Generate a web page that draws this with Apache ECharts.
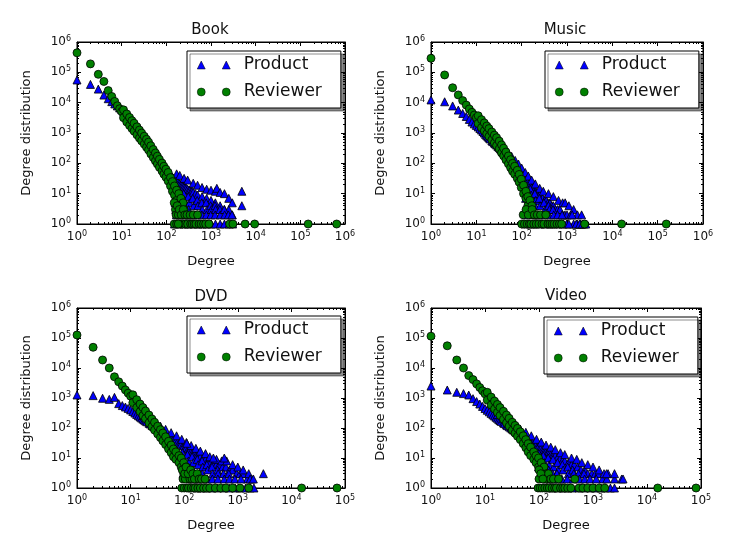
<!doctype html>
<html>
<head>
<meta charset="UTF-8">
<title>Degree distribution</title>
<script src="https://cdn.jsdelivr.net/npm/echarts@6.0.0/dist/echarts.min.js"></script>
<style>
    html, body { margin: 0; padding: 0; background: #fff; }
    #main { width: 736px; height: 550px; }
</style>
</head>
<body>
<div id="main"></div>
<script>
// [degree, count] (head, band, tail cloud)
var bookProduct = [[1,56000],[2,40000],[3,28000],[4,17800],[5,13500],[6,10800],[7,9100],[8,7800],[9,6700],[10,5900],
    [11,5200],[12,4400],[13,3600],[14,3100],[15,2700],[16,2400],[17,2100],[18,1850],[19,1650],[20,1500],[22,1250],[23,1150],[25,980],[26,900],[28,780],[30,700],[32,610],[34,550],[36,490],[38,440],[40,400],[43,340],[45,310],[48,275],[51,240],[54,210],[57,190],[60,170],[63,150],[67,130],[70,120],[75,105],[80,92],[84,84],[88,76],[94,68],[98,62],[105,56],[110,50],[118,45],[124,42],[130,38],[137,35],[145,32],[152,30],[160,28],[170,26],[180,24],[190,22],[200,21],[212,20],[225,19],[237,18],[250,17],[265,16],[280,15],[300,14],[320,13],[340,13],[360,12],[380,12],[400,11],[450,10],[500,9],[630,8],[800,7],[1000,6],[1250,5],[1600,4],[2000,3],[2500,3],[3000,2],
    [170,45],[200,40],[250,32],[300,28],[400,22],[500,19],[630,16],[800,14],[1000,13],[1250,12],[1350,15],[1600,11],[2000,10],[2500,7],[3000,5],[4900,12],[4900,4],
    [155,16],[165,9],[158,5],[162,3],[168,2],[152,1],[195,12],[205,7],[198,4],[208,2],[192,1],[245,10],[255,6],[242,3],[258,2],[250,1],[310,8],[330,5],[315,3],[325,2],[305,1],[390,7],[410,4],[395,2],[415,1],[490,6],[510,4],[495,2],[515,1],[620,5],[640,3],[625,2],[645,1],[780,5],[820,3],[790,2],[810,1],[980,4],[1020,3],[990,2],[1010,1],[1230,4],[1270,3],[1240,2],[1260,1],[1580,3],[1620,2],[1600,1],[1980,3],[2020,2],[2000,1],[2450,2],[2550,1],[2950,2],[3050,1]];
var bookReviewer = [[1,440000],[2,190000],[3,86000],[4,50000],[5,25000],[6,16000],[7,11000],[8,7900],[9,6300],[10,5100],
    [12,3600],[14,2750],[16,2100],[18,1700],[20,1400],[23,1080],[26,850],[30,650],[34,510],[38,410],[43,310],[48,240],[54,185],[60,145],[67,112],[75,87],[84,68],[94,52],[105,41],[118,30],[130,21],[145,15],[160,11],[180,8],[200,6],[225,4],[250,3],[280,2],[320,1],
    [11,5800],[11,3200],[13,4250],[13,2300],[15,3250],[15,1780],[17,2550],[17,1400],[19,2100],[19,1150],[22,1600],[22,870],[25,1250],[25,680],[28,1000],[28,550],[32,780],[32,430],[36,620],[36,340],[40,500],[40,275],[45,380],[45,205],[51,285],[51,155],[57,220],[57,120],[63,172],[63,95],[70,135],[70,74],[80,102],[80,56],[88,80],[88,44],[98,64],[98,35],[110,50],[110,26],[124,34],[124,18],[137,25],[137,12],[152,18],[152,9],[170,13],[170,6],[190,10],[190,5],[212,7],[212,3],[237,5],[237,2],
    [150,5],[160,3],[165,2],[175,4],[185,2],[195,3],[205,1],[215,2],[230,1],[240,3],[260,2],[270,1],[290,2],[300,1],[340,2],[350,1],[380,1],[400,2],[420,1],[460,1],[500,2],[540,1],[600,1],[680,1],[760,1],[900,1],[150,1],[170,1],[185,1],
    [2600,1],[3100,1],[5800,1],[9500,1],[150000,1],[650000,1]];

var musicProduct = [[1,12300],[2,10700],[3,7800],[4,5700],[5,4400],[6,3500],[7,2800],[8,2300],[9,2000],[10,1780],
    [11,1580],[12,1400],[13,1250],[14,1120],[15,1000],[16,900],[17,820],[18,750],[19,690],[20,640],[22,560],[23,520],[25,470],[26,440],[28,400],[30,360],[32,330],[34,300],[36,275],[38,255],[40,235],[43,210],[45,195],[48,175],[51,158],[54,142],[57,128],[60,116],[63,105],[67,94],[70,86],[75,76],[80,67],[84,61],[88,56],[94,50],[98,46],[105,41],[110,37],[118,33],[124,30],[130,27],[137,25],[145,22],[152,20],[160,18],[170,16],[180,15],[190,13],[200,12],[212,11],[225,10],[240,9],[250,9],[270,8],[290,7],[320,6],[350,6],[380,5],[420,5],[460,4],[500,4],[560,3],[620,3],[700,3],[800,2],[900,2],[1000,2],[1200,2],[1400,1],[1700,1],[2000,1],[2400,1],
    [30,520],[40,330],[50,230],[60,170],[72,125],[85,95],[100,70],[120,50],[140,38],[166,28],[200,21],[250,15],[300,12],[390,10],[500,8],[650,6],[800,5],[910,5],[1100,4],[1400,3],[1700,2],[2100,2],
    [125,18],[128,11],[122,7],[131,4],[126,2],[120,1],[155,14],[162,9],[152,5],[165,3],[158,1],[195,10],[205,6],[198,4],[208,2],[192,1],[245,7],[255,4],[242,2],[258,1],[310,5],[330,3],[315,2],[325,1],[390,4],[410,3],[395,2],[415,1],[490,3],[510,2],[500,1],[620,2],[640,1],[780,2],[820,1],[980,1],[1100,1],[1300,2],[1600,1],[1900,1],[2200,1],[2600,1]];
var musicReviewer = [[1,290000],[2,82000],[3,31000],[4,18000],[5,11700],[6,8300],[7,6200],[8,4800],[9,3900],[10,3200],
    [12,2350],[14,1800],[16,1400],[18,1150],[20,950],[23,740],[26,590],[30,460],[34,345],[38,265],[43,195],[48,150],[54,112],[60,87],[67,66],[75,50],[84,38],[94,26],[105,17],[118,11],[130,8],[145,5],[160,3],[175,2],[200,1],
    [11,3700],[11,2050],[13,2750],[13,1500],[15,2150],[15,1180],[17,1700],[17,940],[19,1400],[19,770],[22,1080],[22,590],[25,850],[25,470],[28,700],[28,385],[32,540],[32,300],[36,405],[36,220],[40,315],[40,175],[45,235],[45,130],[51,175],[51,96],[57,132],[57,72],[63,100],[63,55],[70,80],[70,44],[80,59],[80,32],[88,43],[88,24],[98,30],[98,16],[110,19],[110,10],[124,12],[124,7],[137,8],[137,4],[152,6],[152,3],[168,4],[168,2],
    [100,1],[108,2],[115,1],[125,3],[132,1],[140,2],[148,1],[160,1],[170,3],[185,1],[190,2],[210,1],[220,2],[240,1],[260,2],[280,1],[310,1],[340,2],[380,1],[420,1],[470,1],[520,1],[600,1],[680,1],[760,1],
    [2450,1],[16000,1],[155000,1]];

var dvdProduct = [[1,1260],[2,1200],[3,980],[4,900],[5,1050],[6,650],[7,560],[8,500],[9,450],[10,400],
    [11,355],[12,315],[13,283],[14,257],[15,234],[16,215],[17,198],[18,185],[19,173],[20,162],[22,145],[23,137],[25,124],[26,118],[28,109],[30,100],[32,93],[34,86],[36,81],[38,76],[40,71],[43,66],[45,62],[48,57],[51,53],[54,50],[57,47],[60,44],[63,42],[67,39],[70,37],[75,34],[80,32],[84,30],[88,29],[94,26],[98,25],[105,23],[110,22],[118,20],[124,19],[130,19],[137,17],[145,16],[152,15],[160,14],[170,13],[180,13],[190,12],[200,11],[225,10],[250,9],[280,8],[300,7],[350,7],[400,6],[450,6],[520,5],[600,5],[700,4],[800,4],[950,3],[1100,3],[1250,3],[1500,2],[1800,2],
    [17,260],[22,200],[28,150],[36,115],[45,90],[57,70],[72,55],[90,42],[110,33],[135,26],[165,21],[200,17],[250,14],[300,11],[400,9],[500,8],[620,8],[800,6],[1000,5],[1260,4],[1600,3],
    [92,15],[96,9],[100,5],[95,3],[115,13],[120,8],[112,5],[118,3],[140,11],[148,7],[143,4],[150,2],[175,9],[182,6],[178,3],[185,2],[172,1],[215,8],[222,5],[218,3],[228,2],[210,1],[265,6],[275,4],[270,2],[260,1],[330,5],[340,3],[335,2],[325,1],[420,4],[430,3],[425,2],[415,1],[540,3],[560,2],[550,1],[680,3],[700,2],[690,1],[880,2],[900,1],[1150,2],[1100,1],[1400,1],[1700,1],[2000,1],
    [112,31],[350,10],[560,10],[1700,2],[1950,2],[3000,3]];
var dvdReviewer = [[1,126000],[2,49000],[3,18500],[4,10000],[5,5100],[6,3470],[7,2500],[8,1860],[9,1450],[10,1150],
    [12,775],[14,550],[16,405],[18,310],[20,245],[23,178],[26,135],[30,98],[34,74],[38,57],[43,43],[48,32],[54,23],[60,18],[67,13],[75,10],[84,8],[94,6],[105,4],[118,2],[130,1],
    [11,1280],[11,700],[13,880],[13,480],[15,630],[15,350],[17,480],[17,260],[19,370],[19,205],[22,270],[22,148],[25,200],[25,110],[28,155],[28,85],[32,115],[32,63],[36,88],[36,48],[40,68],[40,37],[45,51],[45,28],[51,36],[51,20],[57,27],[57,15],[63,20],[63,11],[70,16],[70,9],[80,12],[80,7],[88,10],[88,5],[98,7],[98,3],[110,5],[110,2],[124,3],[124,1],
    [90,1],[95,2],[100,1],[105,2],[112,1],[115,3],[120,1],[128,2],[135,1],[140,2],[150,1],[160,1],[170,2],[180,1],[200,1],[230,1],[260,1],[300,1],[380,1],[480,1],[600,1],[800,1],[1100,1],[1600,1],
    [92,4],[102,3],[108,5],[118,3],[132,4],[145,3],[155,2],[175,3],[190,2],[210,2],[245,2],
    [15500,1],[71000,1]];

var videoProduct = [[1,2500],[2,1850],[3,1550],[4,1400],[5,1260],[6,950],[7,760],[8,630],[9,525],[10,445],
    [11,390],[12,345],[13,307],[14,275],[15,250],[16,228],[17,210],[18,191],[19,178],[20,166],[22,148],[23,140],[25,126],[26,120],[28,110],[30,100],[32,92],[34,85],[36,79],[38,74],[40,69],[43,63],[45,60],[48,55],[51,51],[54,47],[57,44],[60,41],[63,39],[67,36],[70,34],[75,32],[80,30],[84,28],[88,27],[94,25],[98,24],[105,22],[110,21],[118,20],[124,19],[130,18],[137,17],[145,16],[152,16],[160,15],[170,14],[180,13],[190,13],[200,12],[225,11],[250,10],[280,9],[300,8],[350,7],[400,6],[450,6],[520,5],[600,4],[700,4],[800,3],[950,3],[1100,3],[1250,3],[1500,2],[1800,2],
    [17,280],[22,200],[28,150],[36,120],[45,92],[57,72],[72,55],[90,42],[110,34],[135,27],[165,23],[200,19],[250,15],[300,13],[400,10],[500,9],[620,7],[800,6],[1000,5],[1300,4],[1600,3],[1900,3],[2500,2],[3400,2],
    [100,14],[104,8],[98,5],[120,12],[126,7],[116,4],[123,3],[148,10],[155,6],[150,4],[158,2],[182,9],[188,5],[178,3],[186,2],[175,1],[220,7],[228,4],[215,3],[232,2],[222,1],[270,6],[280,4],[265,2],[275,1],[340,5],[350,3],[335,2],[345,1],[420,4],[440,3],[430,2],[410,1],[540,3],[560,2],[550,1],[680,3],[700,2],[690,1],[880,2],[900,1],[1150,2],[1100,1],[1400,1],[1700,1],[2100,1],[2500,1],
    [1780,3],[2500,3],[3600,2]];
var videoReviewer = [[1,115000],[2,55000],[3,18500],[4,10000],[5,5600],[6,4100],[7,2950],[8,2240],[9,1740],[10,1380],
    [12,935],[14,675],[16,510],[18,400],[20,318],[23,235],[26,182],[30,133],[34,102],[38,80],[43,62],[48,47],[54,35],[60,26],[67,19],[75,14],[84,10],[94,8],[105,6],[118,4],[130,3],[145,2],[160,1],
    [11,1550],[11,850],[13,1070],[13,585],[15,790],[15,430],[17,610],[17,330],[19,480],[19,260],[22,360],[22,195],[25,270],[25,148],[28,210],[28,115],[32,155],[32,85],[36,122],[36,67],[40,97],[40,53],[45,75],[45,41],[51,55],[51,30],[57,41],[57,22],[63,30],[63,16],[70,23],[70,12],[80,16],[80,9],[88,12],[88,7],[98,10],[98,5],[110,7],[110,4],[124,5],[124,2],[137,3],[137,1],
    [96,1],[100,2],[105,1],[112,3],[115,1],[122,2],[128,1],[135,2],[142,1],[150,3],[155,1],[165,2],[175,1],[185,2],[195,1],[210,1],[230,2],[250,1],[275,1],[300,1],[340,1],[390,1],[460,2],[550,1],[650,1],[800,1],[1000,1],[1300,1],[1650,1],
    [100,4],[108,3],[118,2],
    [15800,1],[81000,1]];

var titles = ['Book', 'Music', 'DVD', 'Video'];
var xMaxExp = [6, 6, 5, 5];   // x axis runs 10^0 .. 10^n
var yMaxExp = 6;
var seriesNames = ['Product', 'Reviewer'];

var panelData = [
    [bookProduct, bookReviewer],
    [musicProduct, musicReviewer],
    [dvdProduct, dvdReviewer],
    [videoProduct, videoReviewer]
];

var font = 'DejaVu Sans';
var layout = [
    {left: 77, top: 42, width: 268, height: 182},
    {left: 431, top: 42, width: 272, height: 182},
    {left: 77, top: 308, width: 268, height: 180},
    {left: 431, top: 308, width: 270, height: 180}
];
var titlePos = [[210, 30], [565, 30], [211, 297], [566, 296]];
var legendPos = [[187, 51], [545, 51], [187, 316], [544, 317]];

var blue = '#0000ff', green = '#008000';
var triIcon = 'path://M0,8L4,0L8,8Z M25,8L29,0L33,8Z';
var dotIcon = 'path://M0,4a4,4 0 1,0 8,0a4,4 0 1,0 -8,0Z M25,4a4,4 0 1,0 8,0a4,4 0 1,0 -8,0Z';

function powLabel(v) {
    return '{b|10}{s|' + Math.round(Math.log(v) / Math.LN10) + '}';
}
var labelRich = {
    b: {fontSize: 12, fontFamily: font, color: '#111', lineHeight: 14},
    s: {fontSize: 8, fontFamily: font, color: '#111', verticalAlign: 'top', lineHeight: 8}
};

function logAxis(i, pos, maxExp, withLabels, name, gap) {
    return {
        type: 'log', logBase: 10, gridIndex: i, position: pos,
        min: 1, max: Math.pow(10, maxExp), splitNumber: maxExp,
        name: name || '', nameLocation: 'middle', nameGap: gap || 0,
        nameTextStyle: {fontSize: 13, fontFamily: font, color: '#111'},
        axisLine: {show: true, onZero: false, lineStyle: {color: '#000', width: 1}},
        axisTick: {show: true, inside: true, length: 4, lineStyle: {color: '#000', width: 1}},
        minorTick: {show: true, splitNumber: 9, length: 2, lineStyle: {color: '#000', width: 1}},
        axisLabel: {show: withLabels, margin: 6, formatter: powLabel, rich: labelRich},
        splitLine: {show: false}
    };
}

var grid = [], xAxis = [], yAxis = [], series = [], legend = [], graphic = [];
for (var i = 0; i < 4; i++) {
    grid.push({left: layout[i].left, top: layout[i].top, width: layout[i].width, height: layout[i].height,
        show: true, borderColor: '#000', borderWidth: 1, backgroundColor: '#fff'});
    xAxis.push(logAxis(i, 'bottom', xMaxExp[i], true, 'Degree', 31));
    yAxis.push(logAxis(i, 'left', yMaxExp, true, 'Degree distribution', 44));
}
for (var i = 0; i < 4; i++) {
    xAxis.push(logAxis(i, 'top', xMaxExp[i], false));
    yAxis.push(logAxis(i, 'right', yMaxExp, false));
}

for (var i = 0; i < 4; i++) {
    series.push({
        type: 'scatter', name: seriesNames[0], xAxisIndex: i, yAxisIndex: i,
        data: panelData[i][0], symbol: 'triangle', symbolSize: 8, clip: false, z: 2, silent: true,
        itemStyle: {color: blue, borderColor: '#000', borderWidth: 0.8, opacity: 1}
    });
    series.push({
        type: 'scatter', name: seriesNames[1], xAxisIndex: i, yAxisIndex: i,
        data: panelData[i][1], symbol: 'circle', symbolSize: 8, clip: false, z: 3, silent: true,
        itemStyle: {color: green, borderColor: '#000', borderWidth: 0.8, opacity: 1}
    });

    legend.push({
        left: legendPos[i][0], top: legendPos[i][1], orient: 'vertical',
        padding: [4, 19, 6, 10], itemGap: 7, itemWidth: 50, itemHeight: 8,
        selectedMode: false, backgroundColor: '#fff', borderColor: '#000', borderWidth: 1,
        shadowColor: 'rgba(0,0,0,0.45)', shadowOffsetX: 3, shadowOffsetY: 3, shadowBlur: 0,
        textStyle: {fontSize: 17, fontFamily: font, color: '#111', lineHeight: 20},
        data: [
            {name: seriesNames[0], icon: triIcon, itemStyle: {color: blue, borderColor: '#000', borderWidth: 0.5}},
            {name: seriesNames[1], icon: dotIcon, itemStyle: {color: green, borderColor: '#000', borderWidth: 0.5}}
        ]
    });

    graphic.push({
        type: 'text', x: titlePos[i][0], y: titlePos[i][1], silent: true,
        style: {text: titles[i], align: 'center', verticalAlign: 'middle',
            textAlign: 'center', textVerticalAlign: 'middle',
            fontSize: 15, fontFamily: font, fill: '#111'}
    });
}

var myChart = echarts.init(document.getElementById('main'), null, {renderer: 'canvas'});
myChart.setOption({
    animation: false,
    backgroundColor: '#fff',
    grid: grid,
    xAxis: xAxis,
    yAxis: yAxis,
    legend: legend,
    graphic: graphic,
    series: series
});
</script>
</body>
</html>
